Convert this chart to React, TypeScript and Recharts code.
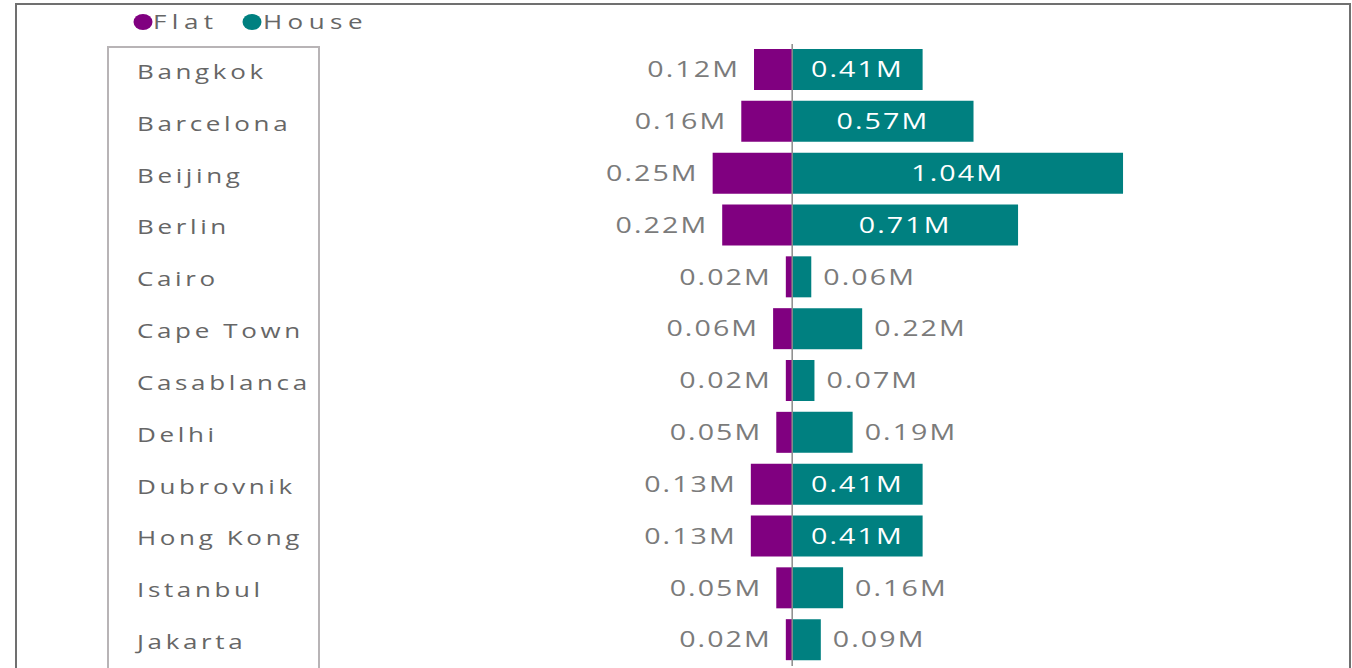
import { Bar, BarChart, LabelList, ReferenceLine, XAxis, YAxis } from "recharts"

const cities = [
  "Bangkok",
  "Barcelona",
  "Beijing",
  "Berlin",
  "Cairo",
  "Cape Town",
  "Casablanca",
  "Delhi",
  "Dubrovnik",
  "Hong Kong",
  "Istanbul",
  "Jakarta",
]
// average price, millions
const flatPrices = [0.12, 0.16, 0.25, 0.22, 0.02, 0.06, 0.02, 0.05, 0.13, 0.13, 0.05, 0.02]
const housePrices = [0.41, 0.57, 1.04, 0.71, 0.06, 0.22, 0.07, 0.19, 0.41, 0.41, 0.16, 0.09]

// flats go to the left of the zero line
const chartData = cities.map((city, i) => ({
  city,
  flat: -flatPrices[i],
  house: housePrices[i],
}))

const PURPLE = "#800080"
const TEAL = "#008080"
const FONT = "'Open Sans', 'Noto Sans', sans-serif"
const SX = 1.3

const fmt = (v: number) => `${Math.abs(v).toFixed(2)}M`

const box = (props: any) => {
  const vb = props.viewBox ?? props
  const x1 = Math.min(vb.x, vb.x + vb.width)
  const x2 = Math.max(vb.x, vb.x + vb.width)
  return { left: x1, right: x2, cy: vb.y + vb.height / 2 }
}

const WideText = ({ x, y, anchor = "start", fill, size, spacing, children }: any) => (
  <text
    transform={`translate(${x},${y}) scale(${SX},1)`}
    dy="0.35em"
    textAnchor={anchor}
    fill={fill}
    fontSize={size}
    letterSpacing={spacing}
    fontFamily={FONT}
  >
    {children}
  </text>
)

const CityTick = ({ y, payload }: any) => (
  <WideText x={137} y={y + 2} fill="#666" size={20} spacing={2.8}>
    {payload.value}
  </WideText>
)

const FlatLabel = (props: any) => {
  const { left, cy } = box(props)
  return (
    <WideText x={left - 14} y={cy} anchor="end" fill="#7b7b7b" size={22} spacing={1.6}>
      {fmt(props.value)}
    </WideText>
  )
}

const HouseLabel = (props: any) => {
  const { left, right, cy } = box(props)
  if (props.value >= 0.3) {
    return (
      <WideText x={(left + right) / 2} y={cy} anchor="middle" fill="#ffffff" size={22} spacing={1.6}>
        {fmt(props.value)}
      </WideText>
    )
  }
  return (
    <WideText x={right + 12} y={cy} fill="#7b7b7b" size={22} spacing={1.6}>
      {fmt(props.value)}
    </WideText>
  )
}

export default function App() {
  return (
    <div
      style={{
        position: "fixed",
        left: 0,
        top: 0,
        width: 1352,
        height: 668,
        overflow: "hidden",
        background: "#fff",
      }}
    >
      {/* outer frame */}
      <div
        style={{
          position: "absolute",
          left: 15,
          top: 3,
          width: 1332,
          height: 720,
          borderTop: "2px solid #707070",
          borderLeft: "2px solid #707070",
          borderRight: "2px solid #707070",
        }}
      />
      {/* box around the city names */}
      <div
        style={{
          position: "absolute",
          left: 107,
          top: 46,
          width: 209,
          height: 720,
          border: "2px solid #b8b4b6",
        }}
      />

      <svg width={400} height={44} style={{ position: "absolute", left: 0, top: 0 }}>
        <ellipse cx={143} cy={22} rx={9.5} ry={8} fill={PURPLE} />
        <WideText x={153} y={22} fill="#666" size={20} spacing={4.2}>
          Flat
        </WideText>
        <ellipse cx={252} cy={22} rx={9.5} ry={8} fill={TEAL} />
        <WideText x={263} y={22} fill="#666" size={20} spacing={4.2}>
          House
        </WideText>
      </svg>

      <div style={{ position: "absolute", left: 0, top: 0 }}>
        <BarChart
          width={1352}
          height={700}
          data={chartData}
          layout="vertical"
          stackOffset="sign"
          barSize={41}
          margin={{ top: 44, right: 19, bottom: 34, left: 0 }}
        >
          <XAxis type="number" domain={[-1.5, 1.7]} hide />
          <YAxis
            type="category"
            dataKey="city"
            width={315}
            axisLine={false}
            tickLine={false}
            interval={0}
            tick={<CityTick />}
          />
          <ReferenceLine x={0} stroke="#8a8a8a" strokeWidth={1.5} />
          <Bar dataKey="flat" stackId="price" fill={PURPLE} isAnimationActive={false}>
            <LabelList dataKey="flat" content={FlatLabel} />
          </Bar>
          <Bar dataKey="house" stackId="price" fill={TEAL} isAnimationActive={false}>
            <LabelList dataKey="house" content={HouseLabel} />
          </Bar>
        </BarChart>
      </div>
    </div>
  )
}
